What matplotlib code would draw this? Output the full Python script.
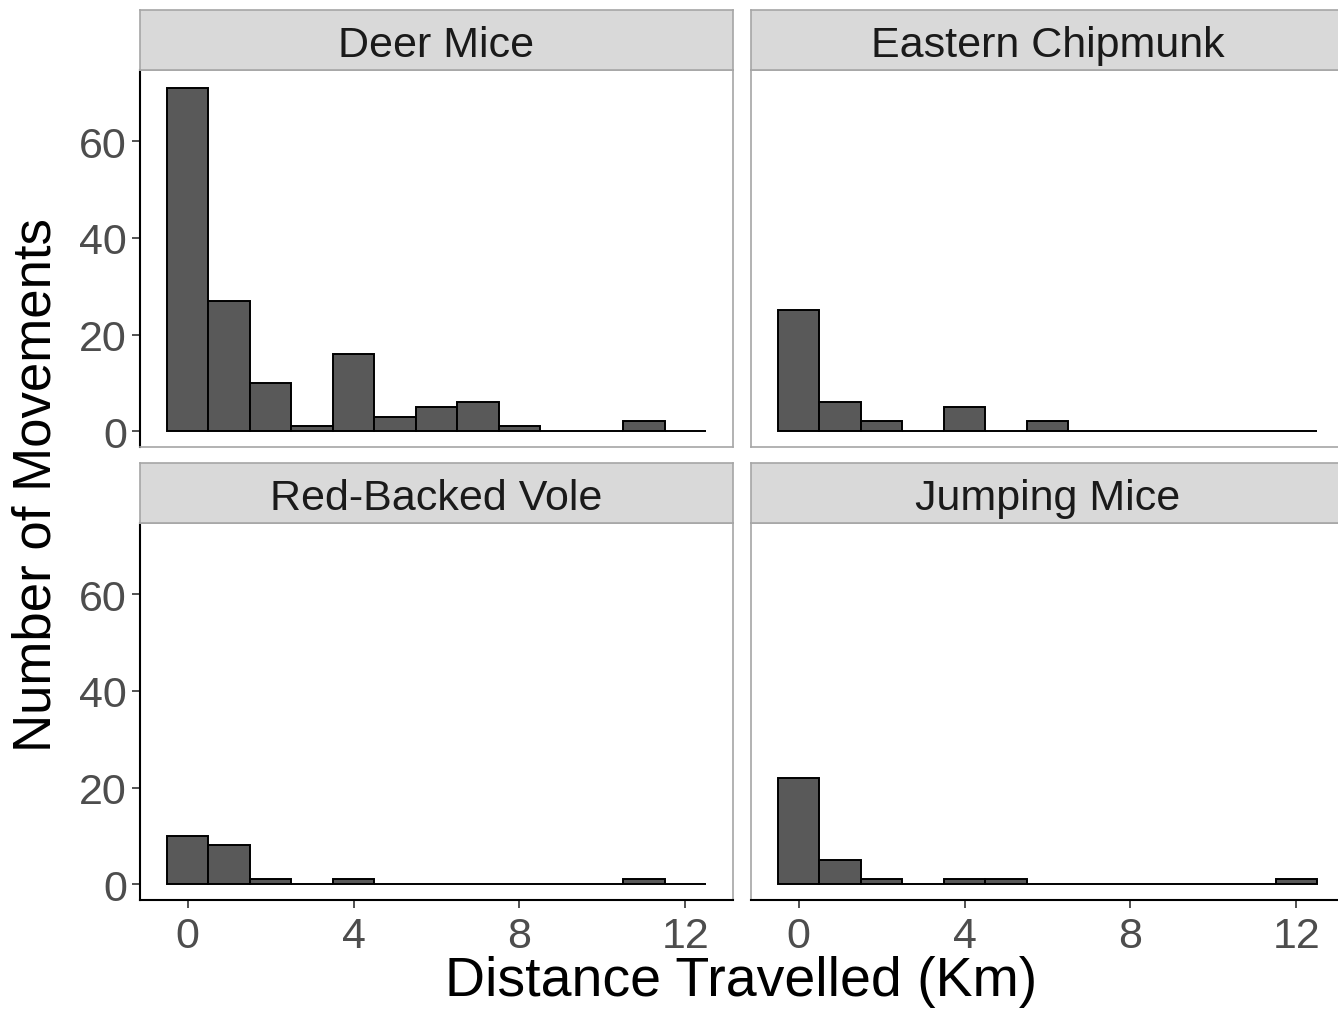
import matplotlib
matplotlib.use('Agg')
import matplotlib.pyplot as plt

plt.rcParams['font.family'] = ['Liberation Sans', 'DejaVu Sans']

# distance bins (km), binwidth 1 centred on integers
distance_bins = list(range(13))

species = ['Deer Mice', 'Eastern Chipmunk', 'Red-Backed Vole', 'Jumping Mice']
deer_mice = [71, 27, 10, 1, 16, 3, 5, 6, 1, 0, 0, 2, 0]
eastern_chipmunk = [25, 6, 2, 0, 5, 0, 2, 0, 0, 0, 0, 0, 0]
red_backed_vole = [10, 8, 1, 0, 1, 0, 0, 0, 0, 0, 0, 1, 0]
jumping_mice = [22, 5, 1, 0, 1, 1, 0, 0, 0, 0, 0, 0, 1]
counts = [deer_mice, eastern_chipmunk, red_backed_vole, jumping_mice]

y_ticks = [0, 20, 40, 60]
x_ticks = [0, 4, 8, 12]

W, H = 1338, 1012
fig = plt.figure(figsize=(W / 100, H / 100), dpi=100, facecolor='white')


def rect(x0, y0, x1, y1):
    # pixel box (from top-left) -> figure fraction
    return [x0 / W, 1 - y1 / H, (x1 - x0) / W, (y1 - y0) / H]


cols = [(140, 733), (751, 1344)]
rows = [(11, 71, 448), (464, 524, 901)]
border = '#A6A6A6'

for i, name in enumerate(species):
    r, c = divmod(i, 2)
    x0, x1 = cols[c]
    s0, p0, p1 = rows[r]

    ax = fig.add_axes(rect(x0, p0, x1, p1))
    ax.bar(distance_bins, counts[i], width=1, color='#595959',
           edgecolor='black', linewidth=1.4)
    ax.set_xlim(-1.15, 13.15)
    ax.set_ylim(-3.3, 74.8)
    for sp in ax.spines.values():
        sp.set_color(border)
        sp.set_linewidth(1.2)
    ax.tick_params(colors='#333333', labelcolor='#4D4D4D', labelsize=31,
                   length=5.5, width=1.2)
    ax.tick_params(axis='x', pad=6)
    ax.tick_params(axis='y', pad=4)
    ax.set_yticks(y_ticks)
    ax.set_xticks(x_ticks)
    if c == 0:
        ax.spines['left'].set_color('black')
        ax.spines['left'].set_linewidth(1.5)
    else:
        ax.tick_params(axis='y', left=False, labelleft=False)
    if r == 1:
        ax.spines['bottom'].set_color('black')
        ax.spines['bottom'].set_linewidth(1.5)
    else:
        ax.tick_params(axis='x', bottom=False, labelbottom=False)

    strip = fig.add_axes(rect(x0, s0, x1, p0))
    strip.set_facecolor('#D9D9D9')
    strip.set_xticks([])
    strip.set_yticks([])
    for sp in strip.spines.values():
        sp.set_color(border)
        sp.set_linewidth(1.2)
    strip.text(0.5, 0.235, name, ha='center', va='baseline', fontsize=31,
               color='#1A1A1A', transform=strip.transAxes)

fig.text(37 / W, 1 - 485 / H, 'Number of Movements', rotation=90,
         ha='center', va='center', fontsize=38)
fig.text(741 / W, 1 - 982 / H, 'Distance Travelled (Km)',
         ha='center', va='center', fontsize=40)

fig.savefig('out.png', dpi=100)
